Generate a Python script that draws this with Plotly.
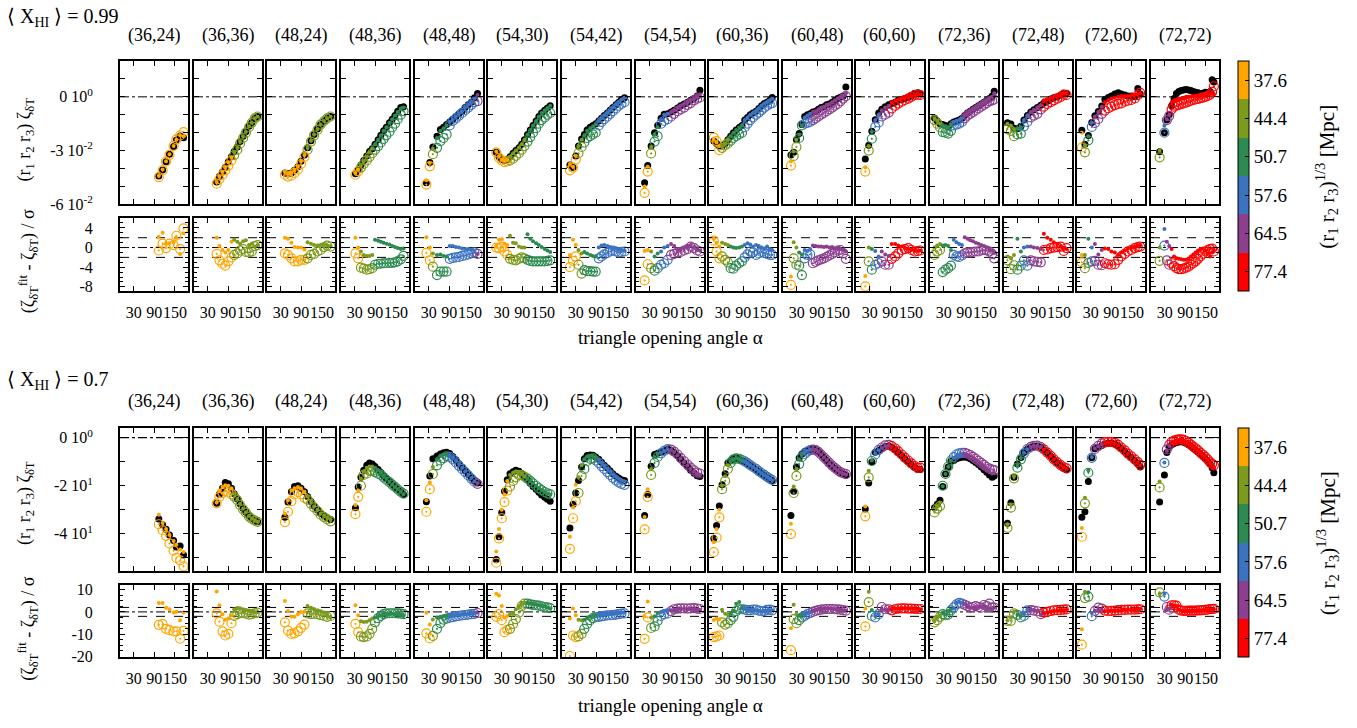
import plotly.graph_objects as go

FONT = "Liberation Serif, Times New Roman, Times, serif"
W, H = 1357, 728

PANELS = ["(36,24)", "(36,36)", "(48,24)", "(48,36)", "(48,48)", "(54,30)", "(54,42)",
          "(54,54)", "(60,36)", "(60,48)", "(60,60)", "(72,36)", "(72,48)", "(72,60)", "(72,72)"]

# colour bins of (r1 r2 r3)^(1/3): 0=37.6 (orange) ... 5=77.4 (red)
CB_LABELS = ["37.6", "44.4", "50.7", "57.6", "64.5", "77.4"]
BIN_COLORS = ["#ffa500", "#7c9a1c", "#2d8a50", "#3b73c1", "#8c3f8e", "#ff0000"]

# triangle opening angle alpha [deg] per panel (same sampling in both blocks)
ALPHA = [
    [103, 114, 124, 134, 146, 154, 165, 175],
    [56, 64, 73, 81, 90, 99, 107, 116, 124, 133, 141, 150, 158, 167, 175],
    [42, 51, 61, 70, 80, 89, 99, 108, 118, 127, 137, 146, 156, 165, 175],
    [32, 40, 48, 56, 65, 73, 81, 89, 98, 106, 114, 122, 131, 139, 147, 155, 164, 172],
    [23, 33, 42, 54, 64, 73, 82, 91, 100, 109, 118, 127, 136, 145, 154, 163, 172],
    [14, 22, 30, 38, 46, 54, 63, 71, 80, 88, 96, 105, 113, 121, 130, 138, 146, 155, 163, 171],
    [13, 22, 30, 38, 47, 55, 63, 72, 80, 88, 97, 105, 113, 122, 130, 138, 147, 155, 163, 172],
    [15, 24, 34, 44, 53, 63, 72, 82, 92, 101, 111, 120, 130, 140, 149, 159, 168, 176],
    [4, 12, 20, 28, 37, 45, 53, 61, 69, 78, 86, 94, 102, 110, 118, 127, 135, 143, 151, 159, 167, 174],
    [13, 21, 29, 37, 45, 53, 61, 69, 77, 85, 93, 101, 109, 117, 125, 133, 141, 149, 157, 165, 173],
    [17, 27, 36, 46, 56, 65, 75, 85, 94, 104, 113, 123, 132, 142, 151, 161, 170, 177],
    [3, 11, 19, 27, 35, 43, 51, 59, 67, 75, 83, 91, 99, 107, 115, 123, 131, 139, 147, 155, 163, 171, 177],
    [0, 10, 19, 29, 39, 48, 58, 68, 77, 87, 97, 106, 116, 126, 135, 145, 155, 164, 172],
    [4, 13, 23, 33, 42, 52, 62, 71, 81, 90, 100, 110, 119, 129, 138, 148, 158, 167, 174],
    [15, 29, 36, 43, 50, 57, 64, 71, 78, 85, 92, 99, 106, 113, 120, 127, 134, 141, 148, 155, 162, 168, 173],
]
BINS = ["00000000", "000000111111111", "000000011111111", "001111122222222222",
        "00122223333333334", "00000111111222222222", "00011222223333333333",
        "001223334444444444", "0001112222233333333333", "011223334444444444444",
        "012334445555555555", "11122223333444444444444", "1112233444455555555",
        "0123444555555555555", "13445555555555555555555"]

# ---------------- <X_HI> = 0.99  (zeta in units of 1e-2) ----------------
BLACK_99 = [
    [-4.42, -4.08, -3.62, -3.2, -2.78, -2.41, -2.19, -2.28],
    [-4.75, -4.45, -4.2, -3.95, -3.62, -3.35, -3.05, -2.8, -2.5, -2.2, -1.95, -1.65, -1.45, -1.2, -1.1],
    [-4.25, -4.3, -4.25, -4.1, -3.9, -3.6, -3.25, -2.85, -2.45, -2.1, -1.8, -1.55, -1.35, -1.2, -1.1],
    [-4.3, -4.05, -3.8, -3.55, -3.3, -3.05, -2.9, -2.65, -2.4, -2.15, -1.9, -1.7, -1.45, -1.25, -1.05, -0.8, -0.6, -0.55],
    [-4.8, -3.66, -2.8, -2.2, -1.83, -1.7, -1.55, -1.4, -1.25, -1.1, -0.95, -0.8, -0.6, -0.45, -0.3, -0.05, 0.18],
    [-3.1, -3.35, -3.5, -3.55, -3.5, -3.35, -3.15, -3.0, -2.85, -2.65, -2.4, -2.1, -1.85, -1.6, -1.35, -1.1, -0.9, -0.75, -0.63, -0.5],
    [-3.8, -3.95, -3.3, -2.75, -2.35, -2.1, -1.85, -1.7, -1.6, -1.5, -1.35, -1.2, -1.05, -0.9, -0.75, -0.6, -0.45, -0.3, -0.15, -0.05],
    [-4.8, -3.84, -2.74, -2.0, -1.6, -1.2, -0.98, -0.95, -0.85, -0.75, -0.62, -0.5, -0.4, -0.3, -0.2, -0.1, 0.05, 0.37],
    [-2.47, -2.6, -2.74, -2.75, -2.6, -2.4, -2.2, -2.0, -1.85, -1.72, -1.6, -1.3, -1.15, -1.0, -0.9, -0.8, -0.65, -0.5, -0.38, -0.3, -0.2, -0.04],
    [-3.25, -3.1, -2.4, -2.05, -1.55, -1.1, -1.0, -0.95, -0.85, -0.8, -0.7, -0.6, -0.55, -0.45, -0.4, -0.3, -0.2, -0.1, -0.02, 0.05, 0.55],
    [-3.47, -2.7, -1.92, -1.28, -0.91, -0.7, -0.55, -0.45, -0.37, -0.3, -0.2, -0.15, -0.1, -0.03, 0.05, 0.2, 0.22, 0.15],
    [-1.19, -1.35, -1.5, -1.55, -1.6, -1.68, -1.5, -1.4, -1.35, -1.3, -1.2, -1.05, -0.9, -0.8, -0.7, -0.6, -0.5, -0.4, -0.3, -0.2, -0.1, 0.05, 0.31],
    [-1.45, -1.52, -1.75, -1.78, -1.65, -1.3, -1.05, -0.85, -0.72, -0.6, -0.47, -0.35, -0.25, -0.12, -0.05, 0.0, 0.1, 0.2, 0.2],
    [-1.86, -2.65, -2.16, -1.43, -1.06, -0.82, -0.51, -0.15, -0.04, 0.04, 0.15, 0.22, 0.15, 0.1, 0.05, 0.05, 0.0, 0.46, 0.15],
    [-3.07, -2.0, -1.3, -1.0, -0.5, -0.1, 0.18, 0.3, 0.35, 0.38, 0.4, 0.38, 0.35, 0.3, 0.25, 0.22, 0.18, 0.2, 0.25, 0.2, 0.3, 0.95, 0.82],
]
SMALL_99 = [
    [-4.4, -4.05, -3.6, -3.2, -2.75, -2.4, -2.15, -2.2],
    [-4.75, -4.45, -4.2, -3.95, -3.65, -3.4, -3.1, -2.85, -2.5, -2.2, -1.95, -1.65, -1.45, -1.2, -1.1],
    [-4.2, -4.3, -4.25, -4.1, -3.9, -3.6, -3.25, -2.85, -2.45, -2.1, -1.8, -1.55, -1.35, -1.2, -1.1],
    [-4.25, -4.05, -3.85, -3.6, -3.35, -3.1, -2.9, -2.65, -2.4, -2.15, -1.9, -1.7, -1.45, -1.25, -1.05, -0.85, -0.65, -0.6],
    [-4.65, -3.7, -2.9, -2.3, -1.9, -1.75, -1.6, -1.4, -1.25, -1.1, -0.95, -0.8, -0.6, -0.45, -0.3, -0.1, 0.1],
    [-3.05, -3.3, -3.5, -3.55, -3.5, -3.35, -3.15, -3.0, -2.85, -2.65, -2.4, -2.1, -1.85, -1.6, -1.35, -1.1, -0.9, -0.75, -0.63, -0.5],
    [-3.75, -3.9, -3.3, -2.75, -2.4, -2.15, -1.9, -1.75, -1.65, -1.55, -1.35, -1.2, -1.05, -0.9, -0.75, -0.6, -0.45, -0.3, -0.15, -0.05],
    [-5.0, -3.9, -2.8, -2.1, -1.7, -1.25, -1.0, -0.95, -0.85, -0.75, -0.62, -0.5, -0.4, -0.3, -0.2, -0.1, 0.0, 0.1],
    [-2.4, -2.55, -2.75, -2.75, -2.6, -2.4, -2.2, -2.0, -1.85, -1.72, -1.6, -1.3, -1.15, -1.0, -0.9, -0.8, -0.65, -0.5, -0.38, -0.3, -0.2, -0.1],
    [-3.6, -3.05, -2.4, -2.1, -1.6, -1.15, -1.05, -0.95, -0.85, -0.8, -0.7, -0.6, -0.55, -0.45, -0.4, -0.3, -0.2, -0.1, -0.02, 0.05, 0.2],
    [-3.93, -2.75, -1.95, -1.3, -1.0, -0.75, -0.6, -0.5, -0.3, -0.22, -0.15, -0.1, -0.05, 0.0, 0.05, 0.12, 0.15, 0.12],
    [-1.2, -1.35, -1.5, -1.6, -1.65, -1.7, -1.55, -1.4, -1.35, -1.3, -1.2, -1.05, -0.9, -0.8, -0.7, -0.6, -0.5, -0.4, -0.3, -0.2, -0.1, 0.0, 0.2],
    [-1.5, -1.6, -1.8, -1.75, -1.7, -1.3, -1.05, -0.85, -0.72, -0.6, -0.47, -0.2, -0.12, -0.05, 0.0, 0.05, 0.12, 0.2, 0.2],
    [-2.0, -2.7, -2.2, -1.45, -1.1, -0.85, -0.55, -0.3, -0.2, -0.1, -0.05, 0.0, 0.05, 0.05, 0.05, 0.1, 0.1, 0.15, 0.2],
    [-3.0, -1.6, -1.25, -1.0, -0.3, -0.2, -0.15, -0.1, -0.1, -0.05, 0.0, 0.0, 0.02, 0.05, 0.05, 0.05, 0.08, 0.1, 0.1, 0.12, 0.15, 0.18, 0.15],
]
OPEN_99 = [
    [-4.48, -4.11, -3.62, -3.24, -2.74, -2.38, -2.16, -1.97],
    [-4.85, -4.6, -4.35, -4.1, -3.85, -3.55, -3.25, -2.95, -2.6, -2.3, -2.0, -1.7, -1.45, -1.2, -1.1],
    [-4.35, -4.45, -4.4, -4.25, -4.05, -3.75, -3.35, -2.95, -2.5, -2.15, -1.85, -1.55, -1.35, -1.2, -1.1],
    [-4.35, -4.15, -3.95, -3.75, -3.55, -3.35, -3.15, -2.95, -2.75, -2.55, -2.35, -2.15, -1.95, -1.7, -1.5, -1.25, -1.0, -0.8],
    [-4.9, -3.88, -3.2, -2.85, -2.47, -2.3, -2.1, -1.6, -1.35, -1.2, -1.05, -0.9, -0.75, -0.6, -0.45, -0.3, -0.24],
    [-3.1, -3.4, -3.55, -3.65, -3.6, -3.55, -3.45, -3.3, -3.15, -2.95, -2.75, -2.5, -2.25, -2.0, -1.75, -1.5, -1.3, -1.15, -1.0, -0.9],
    [-4.1, -3.95, -3.5, -3.15, -2.8, -2.55, -2.3, -2.2, -2.1, -2.0, -1.6, -1.4, -1.25, -1.1, -0.95, -0.8, -0.65, -0.5, -0.4, -0.3],
    [-5.36, -4.17, -3.16, -2.5, -2.2, -1.5, -1.35, -1.25, -1.1, -0.95, -0.8, -0.7, -0.6, -0.45, -0.35, -0.2, -0.1, -0.04],
    [-2.28, -2.47, -2.98, -2.85, -2.7, -2.6, -2.45, -2.3, -2.2, -2.1, -2.0, -1.7, -1.5, -1.3, -1.15, -1.0, -0.88, -0.75, -0.6, -0.5, -0.4, -0.35],
    [-3.84, -3.3, -2.8, -2.3, -1.6, -1.5, -1.45, -1.4, -1.3, -1.2, -1.1, -1.0, -0.9, -0.8, -0.7, -0.6, -0.5, -0.4, -0.25, -0.1, 0.04],
    [-4.17, -3.0, -2.34, -1.68, -1.43, -1.1, -1.0, -0.88, -0.65, -0.5, -0.38, -0.27, -0.18, -0.1, 0.0, 0.1, 0.12, 0.1],
    [-1.3, -1.5, -1.7, -1.97, -2.0, -2.05, -1.9, -1.6, -1.55, -1.5, -1.4, -1.2, -1.05, -0.95, -0.85, -0.75, -0.65, -0.55, -0.45, -0.35, -0.25, -0.2, -0.15],
    [-1.8, -1.9, -2.2, -2.1, -2.05, -1.65, -1.4, -1.15, -1.05, -0.95, -0.7, -0.55, -0.4, -0.3, -0.2, -0.1, 0.0, 0.12, 0.1],
    [-2.83, -3.1, -2.43, -1.68, -1.46, -1.24, -0.95, -0.77, -0.64, -0.55, -0.46, -0.4, -0.37, -0.27, -0.22, -0.18, -0.09, 0.09, 0.22],
    [-3.38, -2.0, -1.3, -1.06, -0.7, -0.55, -0.5, -0.45, -0.4, -0.37, -0.32, -0.27, -0.22, -0.18, -0.15, -0.12, -0.08, -0.05, 0.0, 0.05, 0.12, 0.27, 0.58],
]
RES_SMALL_99 = [
    [2.2, 3.0, 0.9, 0.9, 1.1, 2.0, -1.3, 2.9],
    [2.0, 0.3, -0.5, -1.0, -0.5, 1.2, 1.6, 1.2, 0.8, 1.3, 1.5, 0.5, 0.8, 0.2, 0.5],
    [2.0, 1.8, 1.0, 0.1, 0.0, 0.0, -0.4, 1.1, 0.8, 0.5, 0.4, 0.5, 0.6, 0.4, 0.3],
    [2.0, 0.0, -0.8, -1.5, -1.7, -1.7, -1.5, 1.6, 1.4, 1.2, 1.0, 0.8, 0.6, 0.3, 0.1, -0.1, -0.3, -0.2],
    [2.1, 0.0, -1.2, -1.5, -1.4, -1.7, -1.8, 0.3, 0.3, 0.1, 0.0, -0.2, -0.3, -0.3, -0.4, -0.8, -1.3],
    [0.3, 1.6, 1.7, 0.8, 0.5, 2.4, 1.0, 0.9, 0.2, 0.0, 0.0, 2.7, 1.8, 1.3, 0.9, 0.5, 0.1, -0.3, -0.6, -0.9],
    [-1.5, 1.6, 0.5, -0.5, -1.2, -0.9, -1.2, -1.5, -1.7, -1.8, 0.0, 0.4, 0.5, 0.3, 0.1, -0.1, -0.2, -0.4, -0.5, -0.6],
    [-0.7, -0.5, -0.8, -1.8, -1.2, -0.8, 0.0, 0.3, 0.7, 0.3, -0.5, -0.3, -0.1, 0.2, 0.5, 0.1, -0.4, -0.6],
    [1.8, 1.0, 0.2, 1.0, 0.7, 0.5, 0.2, 0.0, -0.1, 0.0, 0.2, 0.5, 0.9, 0.6, 0.2, 0.5, 0.3, 0.0, -0.2, 0.2, -0.3, -0.5],
    [-5.9, 1.1, 0.0, -1.0, -1.4, -0.5, -0.7, -0.3, 0.4, 0.3, 0.2, 0.2, 0.1, 0.2, 0.0, 0.1, -0.2, -0.1, -0.3, -0.5, -0.8],
    [-5.8, 0.0, -0.3, -0.7, -1.8, -0.8, -1.4, -1.7, 0.7, 0.7, 0.4, 0.2, 0.0, -0.3, -0.5, -0.5, -0.7, -0.6],
    [0.0, 0.4, 0.7, 0.4, 0.5, 0.3, -0.5, 1.6, 1.1, 0.7, 0.5, 2.1, 1.8, 1.5, 1.3, 1.0, 0.8, 0.5, 0.3, 0.0, -0.3, -0.6, -1.0],
    [-1.8, -2.2, -1.5, 1.8, -0.8, 0.0, 0.2, 0.2, 0.0, -0.1, -0.3, 2.8, 2.0, 1.6, 1.1, 0.7, 0.3, -0.2, -0.3],
    [-1.5, -1.5, 1.8, 0.0, 0.7, -1.4, -0.5, -0.2, -0.3, -0.8, -1.0, -1.5, -1.0, -0.6, -0.2, 0.0, 0.2, 0.4, 0.5],
    [0.0, 3.8, 1.2, 0.3, -0.3, -1.8, -2.2, -2.3, -2.4, -2.5, -2.5, -2.3, -1.8, -1.4, -1.0, -0.6, -0.3, -0.2, -0.6, -1.2, -1.8, -1.0, -0.5],
]
RES_OPEN_99 = [
    [-0.6, 0.8, -0.1, 0.8, 0.5, 2.4, -0.3, 3.9],
    [-1.3, -2.6, -3.3, -3.7, -2.8, -2.0, -1.5, -1.2, -0.6, -0.3, -0.9, -1.0, -0.8, 0.3, 0.5],
    [-1.2, -1.5, -2.2, -2.8, -2.8, -2.5, -2.5, -2.2, -1.5, -1.3, -0.8, -0.5, 0.1, 0.4, 0.2],
    [-1.2, -2.2, -4.1, -4.3, -4.5, -4.4, -4.2, -3.5, -3.3, -3.3, -3.2, -3.2, -3.1, -3.1, -3.0, -2.8, -2.4, -1.7],
    [-1.1, -2.6, -3.9, -5.6, -4.9, -4.9, -4.9, -2.3, -2.1, -2.0, -1.9, -1.7, -1.6, -1.4, -1.2, -1.0, -1.3],
    [0.0, -0.1, 0.2, -0.8, -1.5, -2.3, -2.5, -2.6, -2.3, -2.0, -2.2, -2.5, -2.7, -2.8, -2.8, -2.8, -2.8, -2.8, -2.7, -2.6],
    [-4.0, -2.7, -1.8, -3.5, -5.3, -4.6, -4.8, -4.8, -4.9, -4.9, -2.2, -1.8, -1.4, -1.1, -0.8, -0.6, -0.8, -1.0, -0.9, -0.8],
    [-6.7, -3.4, -4.2, -4.7, -4.2, -3.5, -3.2, -2.5, -1.5, -1.3, -1.0, -0.9, -0.6, -0.3, 0.2, -0.1, -0.6, -0.8],
    [1.4, -0.8, -2.2, -1.8, -2.5, -3.0, -4.2, -4.3, -3.7, -3.2, -2.8, -2.0, -1.4, -0.8, -1.0, -1.5, -1.2, -0.9, -1.1, -1.3, -1.5, -1.5],
    [-7.6, -2.2, -3.5, -3.7, -5.6, -2.2, -1.5, -1.4, -3.2, -2.9, -2.6, -2.4, -2.2, -1.9, -1.6, -1.3, -1.0, -0.6, -0.5, -1.2, -2.3],
    [-7.9, -2.8, -4.5, -3.5, -3.2, -2.8, -3.5, -3.5, -2.3, -1.8, -1.2, -0.5, -0.3, -0.1, -0.5, -0.8, -0.7, -0.6],
    [-1.5, -0.8, -0.5, -5.0, -4.5, -4.2, -3.7, -1.5, -1.8, -1.9, -1.6, -1.2, -1.0, -1.0, -0.9, -0.8, -0.8, -0.6, -0.5, -0.6, -0.8, -1.3, -2.2],
    [-2.6, -4.4, -3.6, -4.5, -3.7, -2.6, -3.7, -2.6, -2.8, -2.9, -3.0, -0.5, -0.4, -0.1, 0.0, 0.1, 0.2, -0.7, -0.1],
    [-3.0, -4.2, -3.1, -2.8, -2.7, -3.5, -3.6, -3.2, -3.4, -3.5, -3.4, -2.5, -1.8, -1.3, -0.8, -0.5, -0.1, 0.1, 0.2],
    [-2.7, 0.4, -2.6, -3.5, -3.2, -3.8, -4.2, -4.4, -4.4, -4.3, -4.1, -3.9, -3.5, -3.2, -2.8, -2.3, -1.8, -1.3, -0.8, -0.5, -0.3, -0.2, -0.8],
]

# ---------------- <X_HI> = 0.7 ----------------
BLACK_07 = [
    [-33.8, -36.2, -38.1, -40.5, -42.8, -45.5, -45.0, -48.8],
    [-27.3, -23.5, -21.0, -18.6, -19.2, -21.0, -23.3, -25.5, -27.5, -29.5, -31.0, -32.5, -33.5, -34.5, -35.0],
    [-33.1, -26.8, -22.5, -20.3, -20.0, -21.0, -22.5, -24.5, -26.5, -28.5, -30.0, -31.5, -32.5, -33.3, -34.0],
    [-29.1, -20.5, -16.5, -13.5, -11.5, -10.5, -11.0, -12.0, -13.2, -14.5, -15.8, -17.0, -18.2, -19.5, -20.5, -21.5, -22.5, -23.6],
    [-26.6, -15.9, -8.8, -7.6, -6.8, -6.3, -6.1, -6.6, -7.8, -9.2, -10.8, -12.3, -13.8, -15.3, -16.7, -18.0, -18.9],
    [-50.7, -41.2, -31.1, -22.3, -17.5, -15.0, -14.2, -13.5, -14.0, -15.0, -16.3, -17.5, -19.0, -20.3, -21.5, -22.7, -23.8, -24.8, -25.6, -26.4],
    [-37.6, -27.7, -23.0, -17.8, -12.2, -8.8, -7.4, -7.2, -7.3, -8.0, -9.0, -10.2, -11.5, -12.6, -13.8, -15.0, -16.0, -16.8, -17.5, -17.8],
    [-32.4, -23.6, -11.9, -7.0, -6.5, -6.0, -5.5, -4.7, -5.2, -6.2, -7.5, -9.0, -10.5, -12.0, -13.5, -14.8, -15.8, -16.2],
    [-41.9, -36.5, -28.4, -19.6, -15.0, -10.5, -9.5, -8.8, -8.4, -9.0, -9.5, -10.0, -10.8, -11.5, -12.3, -13.2, -14.0, -14.9, -15.7, -16.5, -17.2, -17.8],
    [-32.4, -22.3, -12.2, -8.5, -6.8, -5.8, -5.2, -4.9, -4.7, -5.0, -5.8, -7.0, -8.3, -9.5, -10.7, -11.8, -12.8, -13.7, -14.5, -15.0, -15.5],
    [-29.7, -18.9, -10.1, -6.1, -5.3, -4.5, -3.8, -3.5, -4.0, -5.0, -6.2, -7.5, -8.8, -10.0, -11.2, -12.3, -13.2, -13.2],
    [-29.1, -27.7, -26.0, -20.3, -15.1, -12.2, -9.7, -9.5, -8.8, -8.4, -8.1, -8.0, -8.3, -8.8, -9.5, -10.3, -11.2, -12.2, -13.3, -14.4, -15.5, -16.5, -15.9],
    [-35.6, -27.1, -16.5, -11.0, -8.2, -6.2, -4.8, -4.0, -3.6, -3.5, -4.0, -5.0, -6.3, -7.7, -9.1, -10.4, -11.6, -12.6, -13.3],
    [-33.1, -30.8, -18.2, -8.4, -4.6, -4.0, -3.3, -2.6, -2.3, -2.2, -2.6, -3.4, -4.5, -5.7, -7.0, -8.3, -9.6, -11.0, -12.2],
    [-26.8, -15.5, -6.2, -4.0, -3.0, -2.4, -2.0, -1.8, -1.7, -1.9, -2.3, -2.9, -3.6, -4.4, -5.2, -6.0, -6.9, -7.8, -8.8, -9.8, -11.0, -12.5, -14.6],
]
SMALL_07 = [
    [-32.0, -35.5, -38.0, -40.5, -43.0, -44.5, -46.5, -47.5],
    [-27.0, -22.0, -20.5, -19.8, -20.0, -21.0, -23.3, -25.5, -27.5, -29.5, -31.0, -32.5, -33.5, -34.5, -35.0],
    [-31.5, -26.0, -22.0, -21.0, -20.5, -21.0, -22.5, -24.5, -26.5, -28.5, -30.0, -31.5, -32.5, -33.3, -34.0],
    [-28.0, -22.0, -17.0, -14.0, -12.5, -12.0, -12.0, -12.5, -13.5, -14.5, -15.8, -17.0, -18.2, -19.5, -20.5, -21.5, -22.5, -23.5],
    [-26.0, -18.6, -12.2, -9.0, -7.5, -7.0, -6.8, -7.2, -8.3, -9.6, -11.0, -12.5, -14.0, -15.4, -16.8, -18.1, -19.0],
    [-47.3, -38.0, -30.0, -23.6, -18.0, -15.5, -14.5, -14.0, -14.3, -15.0, -16.0, -17.0, -18.0, -19.0, -20.0, -21.0, -21.8, -22.6, -23.2, -23.6],
    [-41.2, -29.0, -19.6, -16.5, -11.5, -9.0, -7.8, -7.5, -7.6, -8.3, -9.3, -10.5, -11.8, -13.0, -14.2, -15.3, -16.3, -17.1, -17.8, -18.2],
    [-33.0, -21.4, -13.0, -8.0, -6.8, -6.2, -5.6, -4.8, -5.1, -6.0, -7.3, -8.7, -10.2, -11.6, -13.0, -14.2, -15.2, -15.6],
    [-43.5, -38.0, -30.0, -20.0, -16.0, -11.5, -9.8, -9.0, -8.6, -9.0, -9.4, -10.0, -10.7, -11.5, -12.3, -13.1, -14.0, -14.8, -15.6, -16.4, -17.1, -17.7],
    [-35.8, -20.3, -13.0, -9.0, -7.0, -6.0, -5.4, -5.0, -4.8, -5.1, -5.8, -7.0, -8.2, -9.4, -10.6, -11.7, -12.7, -13.6, -14.4, -14.9, -15.3],
    [-28.6, -13.8, -9.5, -6.5, -5.2, -4.3, -3.5, -3.3, -3.8, -4.8, -6.0, -7.3, -8.6, -9.8, -11.0, -12.1, -12.9, -12.8],
    [-30.0, -28.5, -27.0, -20.2, -15.1, -12.1, -9.6, -8.5, -7.9, -7.4, -7.2, -7.1, -7.5, -8.0, -8.7, -9.5, -10.4, -11.3, -12.3, -13.3, -14.2, -14.9, -14.7],
    [-36.0, -28.0, -16.0, -11.5, -8.5, -6.3, -4.8, -3.9, -3.5, -3.4, -3.9, -4.9, -6.2, -7.6, -9.0, -10.3, -11.5, -12.4, -13.0],
    [-37.6, -25.0, -13.5, -8.0, -4.5, -3.6, -2.8, -2.2, -2.0, -2.0, -2.4, -3.2, -4.3, -5.5, -6.8, -8.0, -9.3, -10.5, -11.6],
    [-18.2, -10.3, -5.5, -3.5, -2.4, -1.7, -1.4, -1.2, -1.1, -1.2, -1.7, -2.4, -3.1, -3.9, -4.7, -5.5, -6.4, -7.3, -8.2, -9.2, -10.4, -11.3, -12.5],
]
OPEN_07 = [
    [-36.0, -38.5, -40.8, -44.0, -47.0, -50.0, -51.0, -53.5],
    [-27.3, -24.6, -23.0, -22.3, -22.8, -23.5, -24.5, -26.0, -28.0, -29.8, -31.2, -32.8, -33.8, -34.5, -35.0],
    [-35.1, -30.8, -26.4, -23.6, -22.7, -23.5, -25.0, -25.8, -27.5, -29.0, -30.5, -32.0, -33.0, -34.0, -34.8],
    [-31.8, -24.6, -20.0, -15.5, -14.9, -13.8, -13.8, -14.3, -15.0, -15.5, -16.5, -17.5, -18.5, -19.5, -20.5, -21.5, -22.5, -23.3],
    [-30.8, -21.4, -15.1, -11.5, -9.5, -8.5, -7.8, -8.0, -9.0, -10.3, -11.7, -13.0, -14.3, -15.7, -17.0, -18.3, -19.2],
    [-52.0, -41.9, -33.5, -26.8, -22.0, -20.3, -18.0, -16.5, -15.5, -15.6, -16.2, -17.0, -18.0, -19.0, -20.0, -21.0, -21.8, -22.6, -23.2, -23.6],
    [-46.2, -33.5, -26.4, -23.0, -15.9, -13.0, -9.7, -8.8, -8.6, -9.5, -10.5, -11.8, -13.0, -14.3, -15.5, -16.7, -17.8, -18.6, -19.2, -19.6],
    [-38.1, -24.6, -15.5, -10.5, -8.0, -6.5, -5.5, -4.8, -5.0, -5.8, -7.0, -8.4, -9.8, -11.2, -12.5, -13.6, -14.5, -14.9],
    [-47.6, -41.6, -33.1, -21.4, -18.0, -13.0, -10.5, -9.0, -8.6, -8.8, -9.3, -9.9, -10.6, -11.4, -12.2, -13.0, -13.9, -14.7, -15.5, -16.3, -17.0, -17.6],
    [-40.1, -23.0, -15.9, -11.0, -8.0, -6.8, -5.8, -5.2, -5.0, -5.2, -5.9, -7.0, -8.2, -9.3, -10.5, -11.6, -12.6, -13.5, -14.3, -14.8, -15.2],
    [-32.7, -16.5, -9.7, -7.0, -5.1, -4.1, -3.2, -3.0, -3.5, -4.5, -5.7, -7.0, -8.3, -9.5, -10.7, -11.8, -12.6, -12.5],
    [-31.1, -29.5, -28.5, -20.0, -15.1, -12.0, -9.5, -8.1, -7.0, -6.5, -6.3, -6.3, -6.7, -7.3, -8.0, -8.8, -9.6, -10.5, -11.3, -12.2, -12.9, -13.3, -13.5],
    [-37.5, -29.1, -16.9, -12.5, -9.0, -6.5, -4.8, -3.8, -3.4, -3.3, -3.9, -4.9, -6.2, -7.6, -9.0, -10.3, -11.4, -12.3, -12.8],
    [-41.2, -27.3, -14.6, -8.4, -4.7, -3.4, -2.4, -1.9, -1.8, -1.8, -2.2, -3.0, -4.1, -5.3, -6.6, -7.8, -9.0, -10.2, -11.3],
    [-20.7, -10.5, -4.9, -3.0, -1.8, -1.2, -0.9, -0.7, -0.7, -0.9, -1.4, -2.1, -2.9, -3.7, -4.5, -5.3, -6.2, -7.1, -8.0, -9.0, -10.2, -10.9, -11.5],
]
RES_SMALL_07 = [
    [4.0, 4.0, 1.9, 1.2, -0.3, 0.1, -3.7, -0.3],
    [9.2, 3.0, -1.0, -3.5, -3.0, -1.5, 1.2, 1.8, 1.6, 1.2, 0.9, 0.6, 0.2, -0.2, 0.0],
    [4.9, 0.4, -2.1, -2.2, -1.0, 0.0, 0.1, 2.6, 1.9, 1.3, 0.8, 0.3, -0.4, -1.5, -2.5],
    [3.0, -1.5, -4.2, -4.5, -4.4, -3.7, -3.0, -2.5, -2.0, -1.6, -1.2, -1.0, -0.9, -0.8, -1.0, -1.2, -1.5, -1.8],
    [-0.4, -5.6, -3.4, -2.5, -2.2, -2.0, -1.8, -1.6, -1.4, -1.3, -1.2, -1.0, -0.9, -0.8, -0.7, -0.5, -0.3],
    [8.1, 7.4, 2.6, -2.5, -1.8, -1.0, -0.7, 1.2, 2.5, 3.7, 4.1, 4.0, 3.8, 3.5, 3.3, 3.0, 2.8, 2.5, 2.0, 1.5],
    [-3.0, 1.5, -1.5, -3.5, -3.8, -3.5, -2.8, -2.2, -1.8, -1.4, -1.2, -1.0, -0.9, -0.8, -0.7, -0.6, -0.5, -0.4, -0.3, -0.2],
    [-2.0, 4.7, -2.5, -2.0, -0.5, 0.0, 0.3, 0.5, 0.8, 1.0, 1.2, 1.3, 1.3, 1.2, 1.2, 1.1, 1.0, 0.8],
    [-3.6, -3.0, -3.3, 1.0, -0.8, -1.3, -0.8, 0.5, 3.7, 4.5, 2.0, 1.5, 1.2, 1.0, 1.0, 0.8, 0.5, 0.3, 0.4, 0.6, 0.8, 0.7],
    [-7.3, 3.2, -1.0, -1.7, -1.2, -0.8, -0.5, -0.2, 0.5, 1.0, 1.2, 1.3, 1.4, 1.5, 1.5, 1.4, 1.3, 1.2, 1.0, 0.8, 0.6],
    [1.5, 9.0, 0.9, -1.8, -1.0, 1.2, 1.0, 1.0, 1.3, 1.5, 1.5, 1.6, 1.6, 1.6, 1.5, 1.4, 1.3, 1.2],
    [-4.0, -2.5, -1.5, -0.3, -1.0, 0.4, 1.2, 1.5, 4.1, 4.6, 4.1, 3.5, 2.6, 2.0, 1.8, 1.6, 2.2, 2.5, 2.2, 1.8, 1.5, 1.2, 2.0],
    [-3.8, -2.5, 0.1, -1.3, -1.8, -0.7, 1.2, 1.2, 0.9, 0.5, -1.5, -0.7, -0.4, 0.0, 0.3, 0.5, 0.7, 0.8, 0.9],
    [-7.8, 9.1, 8.8, -0.5, 0.5, 1.0, 0.5, 0.3, 0.4, 0.5, 0.6, 0.8, 0.9, 1.0, 1.0, 1.0, 1.1, 1.2, 1.3],
    [8.0, 8.1, 1.0, 1.5, 3.2, 3.0, 2.5, 1.0, 0.5, 0.3, 0.3, 0.4, 0.5, 0.5, 0.5, 0.5, 0.6, 0.6, 0.7, 0.8, 1.0, 1.1, 1.2],
]
RES_OPEN_07 = [
    [-5.8, -5.5, -7.6, -8.2, -8.8, -8.7, -12.0, -8.5],
    [-0.7, -4.4, -8.7, -10.6, -9.9, -5.1, -1.8, -1.0, -0.6, -0.5, -0.8, -1.2, -1.0, -0.6, -0.3],
    [-4.7, -8.4, -9.9, -9.6, -8.7, -7.2, -5.7, -0.7, -1.0, -0.8, -1.0, -1.4, -1.8, -2.2, -1.8],
    [-5.4, -9.1, -11.0, -11.3, -11.0, -9.9, -7.6, -4.7, -2.8, -1.8, -1.0, -0.7, -0.6, -0.6, -0.6, -0.7, -0.8, -1.0],
    [-9.6, -11.9, -10.8, -7.6, -5.0, -3.5, -3.0, -2.6, -2.3, -2.0, -1.8, -1.6, -1.4, -1.2, -1.0, -0.9, -0.5],
    [-2.2, -1.0, -3.7, -9.1, -8.1, -7.6, -5.4, -3.2, -0.3, 2.6, 3.7, 3.7, 3.4, 3.2, 3.0, 2.8, 2.5, 2.2, 2.0, 1.7],
    [-19.8, -10.6, -11.3, -11.0, -9.9, -7.6, -5.4, -3.7, -2.8, -2.4, -2.2, -2.0, -1.8, -1.6, -1.5, -1.4, -1.2, -1.0, -0.8, -0.7],
    [-12.1, -2.5, -7.2, -6.5, -4.0, -1.8, -1.0, -0.7, 0.4, 1.2, 1.5, 1.6, 1.6, 1.5, 1.6, 1.7, 1.5, 1.3],
    [-11.3, -11.0, -10.6, -4.7, -5.7, -5.1, -3.7, -2.2, 0.4, 1.2, 1.2, 1.0, 0.8, 0.8, 1.0, 1.0, 0.6, 0.3, 0.5, 0.9, 1.0, 0.7],
    [-17.2, -3.2, -5.1, -3.7, -2.5, -1.8, -1.0, -0.5, 0.0, 0.5, 0.8, 1.0, 1.2, 1.3, 1.3, 1.3, 1.2, 1.1, 1.0, 0.8, 0.6],
    [-6.5, 4.4, -1.8, -2.5, -1.0, 2.2, 1.2, 1.2, 0.7, 1.2, 1.5, 1.6, 1.6, 1.5, 1.5, 1.4, 1.3, 1.3],
    [-4.7, -3.7, -2.2, -1.0, -1.5, -1.2, 0.7, 2.0, 3.4, 4.1, 3.7, 3.2, 2.6, 1.9, 2.2, 2.6, 2.2, 1.9, 3.1, 2.6, 3.7, 2.0, 1.9],
    [-4.0, -4.0, -0.7, -1.3, -2.5, -1.8, 0.7, 0.8, 0.6, 0.3, -1.0, -0.3, 0.0, 0.4, 0.7, 0.8, 0.9, 1.0, 1.1],
    [-14.7, 6.2, 6.9, -1.9, 0.5, 1.9, 1.5, 0.6, 0.3, 0.5, 0.6, 0.8, 0.9, 0.9, 1.0, 1.0, 1.0, 1.1, 1.2],
    [8.8, 6.9, 2.2, 1.0, 3.0, 3.0, 2.8, 1.0, 0.6, 0.5, 0.5, 0.6, 0.6, 0.6, 0.6, 0.7, 0.7, 0.8, 0.9, 1.0, 1.3, 1.3, 1.4],
]

# consistency check
for name, arrs in [("BLACK_99", BLACK_99), ("SMALL_99", SMALL_99), ("OPEN_99", OPEN_99),
                   ("RES_SMALL_99", RES_SMALL_99), ("RES_OPEN_99", RES_OPEN_99),
                   ("BLACK_07", BLACK_07), ("SMALL_07", SMALL_07), ("OPEN_07", OPEN_07),
                   ("RES_SMALL_07", RES_SMALL_07), ("RES_OPEN_07", RES_OPEN_07), ("BINS", BINS)]:
    for i, a in enumerate(arrs):
        assert len(a) == len(ALPHA[i]), f"{name}[{i}] has {len(a)} vs {len(ALPHA[i])}"

# ---------------- layout geometry (pixels) ----------------
COL_X0, COL_STEP, COL_W = 120, 73.65, 68
EPS = 0.02
BLOCKS = [
    dict(label="⟨ X<sub>HI</sub> ⟩ = 0.99", label_y=14, title_y=32, main=(58, 204), res=(218, 292),
         xt_y=340, main_rng=[-6, 2], res_rng=[-8.8, 6],
         main_ticks=[-6, -3, 0],
         main_text=["-6 10<sup>-2</sup>", "-3 10<sup>-2</sup>", "0 10<sup>0</sup>"],
         main_minor=[-5, -4, -2, -1, 1, 2],
         res_ticks=[-8, -4, 0, 4], res_minor=[v for v in range(-8, 7)],
         zero_col="#555555", zero_w=1.6,
         data=(BLACK_99, SMALL_99, OPEN_99, RES_SMALL_99, RES_OPEN_99),
         ylab_main=138, ylab_res=262, cb_title_y=176),
    dict(label="⟨ X<sub>HI</sub> ⟩ = 0.7", label_y=383, title_y=405, main=(432, 577), res=(592, 665),
         xt_y=714, main_rng=[-55.3, 3.9], res_rng=[-20.3, 11.9],
         main_ticks=[-40, -20, 0],
         main_text=["-4 10<sup>1</sup>", "-2 10<sup>1</sup>", "0 10<sup>0</sup>"],
         main_minor=[-50, -30, -10],
         res_ticks=[-20, -10, 0, 10], res_minor=[-20 + 2.5 * k for k in range(13)],
         zero_col="black", zero_w=1.2,
         data=(BLACK_07, SMALL_07, OPEN_07, RES_SMALL_07, RES_OPEN_07),
         ylab_main=508, ylab_res=636, cb_title_y=549),
]

colorscale = []
for i, col in enumerate(reversed(BIN_COLORS)):  # low value = red (bottom), high = orange (top)
    colorscale.append([i / 6, col])
    colorscale.append([(i + 1) / 6, col])


def cvals(bins):
    return [5.5 - int(b) for b in bins]


def xref(n):
    return "x" if n == 1 else f"x{n}"


def yref(n):
    return "y" if n == 1 else f"y{n}"


def xkey(n):
    return "xaxis" if n == 1 else f"xaxis{n}"


def ykey(n):
    return "yaxis" if n == 1 else f"yaxis{n}"


fig = go.Figure()
layout = dict(width=W, height=H, margin=dict(l=0, r=0, t=0, b=0), showlegend=False,
              plot_bgcolor="white", paper_bgcolor="white",
              font=dict(family=FONT, size=16, color="black"))
shapes, annotations = [], []

axis_common = dict(showline=True, linecolor="black", linewidth=2, mirror="ticks",
                   ticks="inside", tickcolor="black", tickwidth=1, showgrid=False,
                   zeroline=False, fixedrange=True,
                   tickfont=dict(family=FONT, size=16, color="black"))

n = 0
for b, blk in enumerate(BLOCKS):
    black, small, opn, rsmall, ropen = blk["data"]
    for c in range(15):
        x0 = round(COL_X0 + c * COL_STEP)
        xdom = [(x0 + EPS) / W, (x0 + COL_W + EPS) / W]
        bins = BINS[c]
        cv = cvals(bins)
        for part in ("main", "res"):
            n += 1
            top, bot = blk[part]
            ydom = [1 - (bot - EPS) / H, 1 - (top - EPS) / H]
            layout[xkey(n)] = dict(axis_common, domain=xdom, anchor=yref(n), range=[-10, 188],
                                   tickmode="array", tickvals=[30, 90, 150],
                                   ticktext=["30", "90", "150"], ticklen=5, tickangle=0,
                                   showticklabels=(part == "res"), ticklabelstandoff=6)
            if part == "main":
                ya = dict(axis_common, domain=ydom, anchor=xref(n), range=blk["main_rng"],
                          tickmode="array", tickvals=blk["main_ticks"], ticktext=blk["main_text"],
                          ticklen=5, showticklabels=(c == 0), ticklabelstandoff=22,
                          minor=dict(tickmode="array", tickvals=blk["main_minor"], ticks="inside",
                                     ticklen=5, tickcolor="black", tickwidth=1))
            else:
                ya = dict(axis_common, domain=ydom, anchor=xref(n), range=blk["res_rng"],
                          tickmode="array", tickvals=blk["res_ticks"],
                          ticktext=[str(v) for v in blk["res_ticks"]],
                          ticklen=5, showticklabels=(c == 0), ticklabelstandoff=22,
                          minor=dict(tickmode="array", tickvals=blk["res_minor"], ticks="inside",
                                     ticklen=3, tickcolor="black", tickwidth=1))
            layout[ykey(n)] = ya

            if part == "main":
                shapes.append(dict(type="line", xref=f"{xref(n)} domain", yref=yref(n),
                                   x0=0, x1=1, y0=0, y1=0, layer="below",
                                   line=dict(color=blk["zero_col"], width=blk["zero_w"], dash="dashdot")))
                ys = (black[c], opn[c], small[c])
            else:
                shapes.append(dict(type="line", xref=f"{xref(n)} domain", yref=yref(n),
                                   x0=0, x1=1, y0=0, y1=0, layer="below",
                                   line=dict(color="black", width=1, dash="dashdot")))
                for yy in (2, -2):
                    shapes.append(dict(type="line", xref=f"{xref(n)} domain", yref=yref(n),
                                       x0=0, x1=1, y0=yy, y1=yy, layer="below",
                                       line=dict(color="black", width=1, dash="dash")))
                ys = (None, ropen[c], rsmall[c])

            yb, yo, ysm = ys
            if yb is not None:
                fig.add_trace(go.Scatter(x=ALPHA[c], y=yb, mode="markers", xaxis=xref(n), yaxis=yref(n),
                                         marker=dict(color="black", size=7), hoverinfo="skip"))
            show_cb = (c == 0 and part == "main")
            mk = dict(symbol="circle-open-dot", size=9, color=cv, colorscale=colorscale,
                      cmin=0, cmax=6, line=dict(width=1.2), showscale=show_cb)
            if show_cb:
                mk["colorbar"] = dict(
                    x=1238 / W, xanchor="left", y=1 - blk["main"][0] / H, yanchor="top",
                    len=(blk["res"][1] - blk["main"][0]) / H, lenmode="fraction",
                    thickness=11, thicknessmode="pixels", outlinecolor="black", outlinewidth=1,
                    tickmode="array", tickvals=[5.5, 4.5, 3.5, 2.5, 1.5, 0.5], ticktext=CB_LABELS,
                    ticks="inside", ticklen=4, tickcolor="black",
                    tickfont=dict(family=FONT, size=19, color="black"), xpad=0, ypad=0)
            fig.add_trace(go.Scatter(x=ALPHA[c], y=yo, mode="markers", xaxis=xref(n), yaxis=yref(n),
                                     marker=mk, hoverinfo="skip"))
            fig.add_trace(go.Scatter(x=ALPHA[c], y=ysm, mode="markers", xaxis=xref(n), yaxis=yref(n),
                                     marker=dict(symbol="circle", size=4, color=cv, colorscale=colorscale,
                                                 cmin=0, cmax=6, showscale=False),
                                     hoverinfo="skip"))

        annotations.append(dict(text=PANELS[c], xref="paper", yref="paper",
                                x=(x0 + COL_W / 2) / W, y=1 - blk["title_y"] / H,
                                xanchor="center", yanchor="middle", showarrow=False,
                                font=dict(family=FONT, size=18, color="black")))

    annotations.append(dict(text=blk["label"], xref="paper", yref="paper", x=5 / W, y=1 - blk["label_y"] / H,
                            xanchor="left", yanchor="middle", showarrow=False,
                            font=dict(family=FONT, size=20, color="black")))
    annotations.append(dict(text="triangle opening angle α", xref="paper", yref="paper",
                            x=670 / W, y=1 - blk["xt_y"] / H, xanchor="center", yanchor="middle",
                            showarrow=False, font=dict(family=FONT, size=19, color="black")))
    annotations.append(dict(text="(r<sub>1</sub> r<sub>2</sub> r<sub>3</sub>) ζ<sub>δT</sub>",
                            xref="paper", yref="paper", x=26 / W, y=1 - blk["ylab_main"] / H,
                            xanchor="center", yanchor="middle", textangle=-90, showarrow=False,
                            font=dict(family=FONT, size=18, color="black")))
    annotations.append(dict(text="(ζ<sub>δT</sub><sup>fit</sup> - ζ<sub>δT</sub>) / σ",
                            xref="paper", yref="paper", x=28 / W, y=1 - blk["ylab_res"] / H,
                            xanchor="center", yanchor="middle", textangle=-90, showarrow=False,
                            font=dict(family=FONT, size=18, color="black")))
    annotations.append(dict(text="(r<sub>1</sub> r<sub>2</sub> r<sub>3</sub>)<sup>1/3</sup> [Mpc]",
                            xref="paper", yref="paper", x=1327 / W, y=1 - blk["cb_title_y"] / H,
                            xanchor="center", yanchor="middle", textangle=-90, showarrow=False,
                            font=dict(family=FONT, size=21, color="black")))

layout["shapes"] = shapes
layout["annotations"] = annotations
fig.update_layout(**layout)

fig.write_html("out.html", config={"displayModeBar": False},
               post_script="document.body.style.margin='0';document.body.style.overflow='hidden';")
